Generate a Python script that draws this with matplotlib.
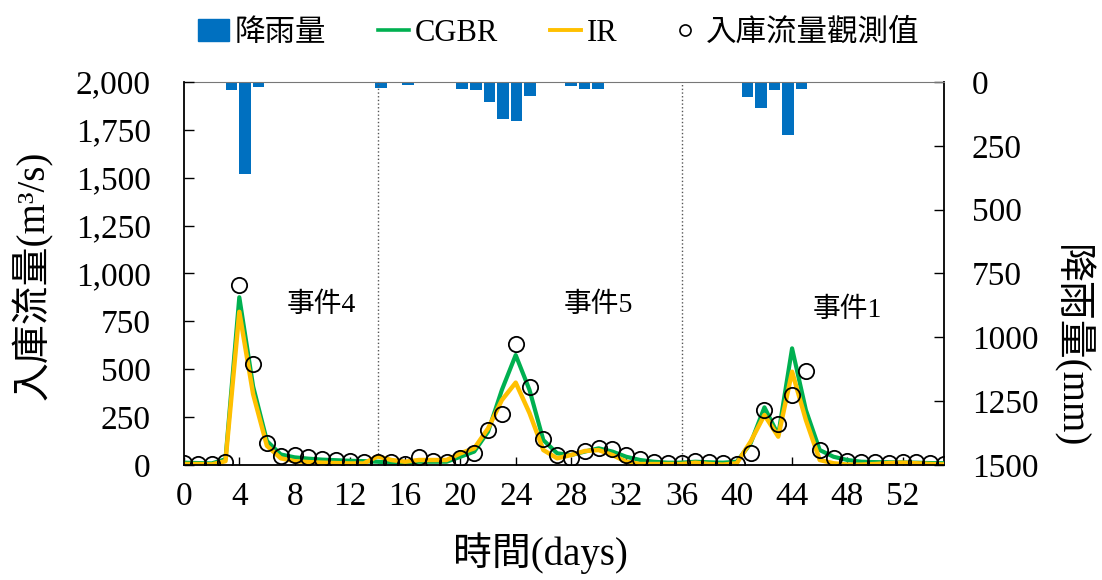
import numpy as np
import matplotlib
matplotlib.use('Agg')
import matplotlib.pyplot as plt
from matplotlib.patches import Patch
from matplotlib.lines import Line2D
from matplotlib.ticker import FuncFormatter, MultipleLocator

plt.rcParams['font.family'] = ['Liberation Serif', 'Noto Sans CJK TC']

# 每日資料 (0..55)
days = np.arange(56)

rain = [5, 0, 2, 31, 361, 18, 3, 4, 5, 0, 2, 2, 0, 0,
        25, 2, 12, 5, 5, 5, 27, 31, 80, 145, 151, 55, 0, 2, 14, 27, 27, 2, 0, 0, 1, 0,
        0, 0, 1, 0, 3, 57, 103, 31, 208, 27, 0, 0, 0, 1, 1, 0, 3, 1, 0, 0]

obs = [8, 5, 5, 17, 940, 527, 115, 47, 52, 40, 30, 26, 23, 14,
       17, 17, 5, 43, 21, 17, 38, 61, 183, 266, 632, 409, 136, 52, 38, 73, 90, 82, 52, 30, 17, 12,
       10, 22, 17, 9, 4, 64, 287, 212, 365, 491, 78, 35, 22, 17, 17, 12, 17, 14, 9, 4]

cgbr = [12, 10, 8, 30, 876, 410, 125, 55, 40, 33, 28, 25, 22, 20,
        17, 12, 12, 17, 17, 17, 43, 70, 174, 392, 574, 392, 130, 61, 52, 70, 87, 70, 43, 26, 17, 12,
        12, 17, 14, 12, 17, 113, 301, 157, 609, 287, 78, 43, 26, 17, 15, 14, 13, 12, 10, 9]

ir = [5, 5, 3, 20, 800, 370, 100, 35, 20, 15, 12, 10, 8, 8,
      45, 26, 17, 26, 26, 26, 61, 87, 191, 339, 430, 271, 78, 35, 52, 73, 78, 52, 17, 5, 5, 5,
      5, 12, 5, 2, 9, 122, 261, 148, 487, 235, 26, 9, 2, 2, 5, 10, 12, 9, 5, 3]

event_bounds = [14, 36]
event_labels = ['事件4', '事件5', '事件1']
event_pos = [(9.9, 835), (30.0, 835), (48.0, 810)]

blue = '#0070C0'
green = '#00B050'
orange = '#FFC000'

fig = plt.figure(figsize=(11.02, 5.8), dpi=100)
rect = [0.167, 0.1983, 0.6897, 0.6603]

# 降雨量 (右軸, 倒置)
ax2 = fig.add_axes(rect, label='rain')
ax2.bar(days, rain, width=0.85, color=blue)
ax2.set_xlim(-0.5, 55.5)
ax2.set_ylim(1500, 0)
ax2.set_xticks([])
ax2.yaxis.tick_right()
ax2.yaxis.set_major_locator(MultipleLocator(250))
ax2.tick_params(axis='y', direction='in', length=7, width=1.0, labelsize=24, pad=20)
ax2.spines['left'].set_visible(False)
ax2.spines['bottom'].set_visible(False)
ax2.spines['top'].set_color('#777777')
ax2.spines['right'].set_linewidth(1.3)

# 入庫流量
ax = fig.add_axes(rect, label='flow')
ax.set_zorder(ax2.get_zorder() + 1)
ax.patch.set_visible(False)
for b in event_bounds:
    ax.axvline(b, color='#555555', ls=':', lw=1.0)
ax.plot(days, cgbr, color=green, lw=3.0, solid_joinstyle='round')
ax.plot(days, ir, color=orange, lw=3.2, solid_joinstyle='round')
ax.plot(days, obs, 'o', mfc='none', mec='black', ms=11, mew=1.3)

for (x, y), t in zip(event_pos, event_labels):
    ax.text(x, y, t, ha='center', va='center', fontsize=20)

ax.set_xlim(0, 55)
ax.set_ylim(0, 2000)
ax.xaxis.set_major_locator(MultipleLocator(4))
ax.yaxis.set_major_locator(MultipleLocator(250))
ax.yaxis.set_major_formatter(FuncFormatter(lambda v, p: f'{int(v):,}'))
ax.tick_params(axis='y', direction='in', length=7, width=1.0, labelsize=24, pad=24)
ax.tick_params(axis='x', direction='in', length=6, width=1.0, labelsize=24, pad=12)
ax.spines['top'].set_visible(False)
ax.spines['right'].set_visible(False)
ax.spines['left'].set_linewidth(1.3)
ax.spines['bottom'].set_linewidth(1.3)

fig.text(540 / 1102, 1 - 553 / 580, '時間(days)', ha='center', va='center', fontsize=28)
fig.text(32 / 1102, 1 - 275 / 580, '入庫流量(m³/s)', ha='center', va='center',
         rotation=90, fontsize=28)
fig.text(1071 / 1102, 1 - 347 / 580, '降雨量(mm)', ha='center', va='center',
         rotation=270, fontsize=28)

handles = [Patch(color=blue),
           Line2D([], [], color=green, lw=2.6),
           Line2D([], [], color=orange, lw=2.8),
           Line2D([], [], ls='none', marker='o', mfc='none', mec='black', ms=8, mew=1.2)]
labels = ['降雨量', 'CGBR', 'IR', '入庫流量觀測值']
fig.legend(handles, labels, loc='upper center', bbox_to_anchor=(0.507, 1.015), ncol=4,
           frameon=False, fontsize=22, handlelength=1.0, handletextpad=0.2,
           columnspacing=1.7)

fig.savefig('out.png', dpi=100)
